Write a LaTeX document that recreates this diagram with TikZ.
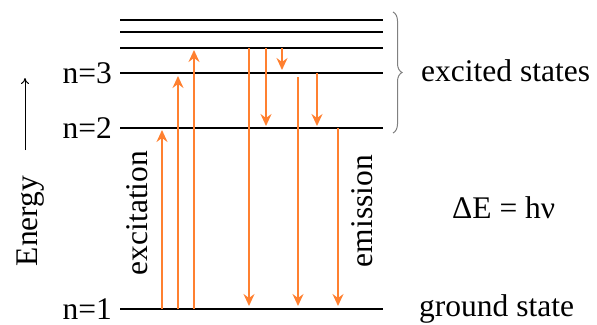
\documentclass[tikz,border=0pt]{standalone}
\usepackage{fontspec}
\newfontfamily\tms{Liberation Serif}
\usetikzlibrary{arrows.meta,decorations.pathreplacing}
\definecolor{orng}{RGB}{255,128,48}
\begin{document}
\begin{tikzpicture}[x=1pt,y=-1pt,
  level/.style={line width=2.6pt,black},
  trans/.style={draw=orng,line width=1.6pt,-{Stealth[length=12pt,width=11pt,inset=4pt]}},
  lbl/.style={font=\tms\fontsize{31.5}{36}\selectfont,inner sep=0pt}]
\useasboundingbox (0,0) rectangle (597,324);
% levels
\coordinate (L6a) at (120,20);  \coordinate (L6b) at (383,20);
\coordinate (L5a) at (120,32);  \coordinate (L5b) at (383,32);
\coordinate (L4a) at (120,48);  \coordinate (L4b) at (383,48);
\coordinate (L3a) at (120,73);  \coordinate (L3b) at (383,73);
\coordinate (L2a) at (120,128); \coordinate (L2b) at (383,128);
\coordinate (L1a) at (120,309); \coordinate (L1b) at (383,309);
\foreach \l in {1,...,6} \draw[level] (L\l a) -- (L\l b);
% labels
\node[lbl,anchor=base east] (n3) at (112,83) {n=3};
\node[lbl,anchor=base east] (n2) at (112,138) {n=2};
\node[lbl,anchor=base east] (n1) at (112,319) {n=1};
\node[lbl,anchor=base,rotate=90] (energy) at (37,221) {Energy};
\node[lbl,anchor=base,rotate=90] (exc) at (147,213) {excitation};
\node[lbl,anchor=base,rotate=90] (emi) at (372,211) {emission};
\node[lbl,anchor=base west] (exst) at (421,81) {excited states};
\node[lbl,anchor=base west] (de) at (452,218) {ΔE = hν};
\node[lbl,anchor=base west] (gs) at (419,316) {ground state};
% energy arrow
\coordinate (e1) at (25,150); \coordinate (e2) at (25,78);
\draw[line width=1pt,-{To[length=6pt,width=8pt]}] (e1) -- (e2);
% brace
\coordinate (b1) at (393,12); \coordinate (b2) at (393,133);
\draw[gray,line width=1pt,decorate,decoration={brace,amplitude=9pt}] (b1) -- (b2);
% excitation arrows
\coordinate (u1s) at (162,309); \coordinate (u1e) at (162,130);
\coordinate (u2s) at (178,309); \coordinate (u2e) at (178,76);
\coordinate (u3s) at (194,309); \coordinate (u3e) at (194,50);
\draw[trans] (u1s) -- (u1e);
\draw[trans] (u2s) -- (u2e);
\draw[trans] (u3s) -- (u3e);
% emission arrows
\coordinate (d1s) at (249,48);  \coordinate (d1e) at (249,306);
\coordinate (d2s) at (266,48);  \coordinate (d2e) at (266,126);
\coordinate (d3s) at (282,48);  \coordinate (d3e) at (282,70);
\coordinate (d4s) at (298,77);  \coordinate (d4e) at (298,306);
\coordinate (d5s) at (317,73);  \coordinate (d5e) at (317,126);
\coordinate (d6s) at (338,128); \coordinate (d6e) at (338,306);
\foreach \i in {1,...,6} \draw[trans] (d\i s) -- (d\i e);
\end{tikzpicture}
\end{document}
